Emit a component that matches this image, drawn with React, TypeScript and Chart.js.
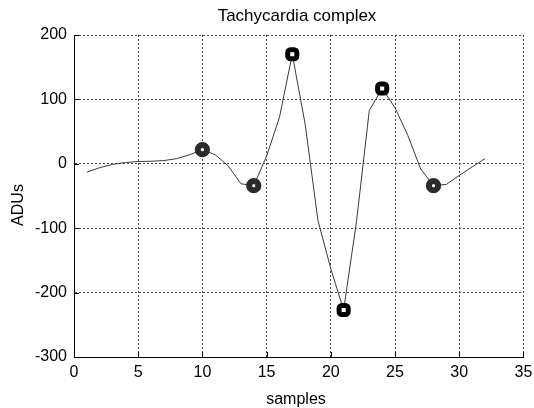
import React, { useEffect, useRef } from "react";
import { Chart, registerables } from "chart.js";

Chart.register(...registerables);

const TITLE = "Tachycardia complex";
const X_LABEL = "samples";
const Y_LABEL = "ADUs";

const samples = [
  1, 2, 3, 4, 5, 6, 7, 8, 9, 10, 11, 12, 13, 14, 15, 16,
  17, 18, 19, 20, 21, 22, 23, 24, 25, 26, 27, 28, 29, 30, 31, 32,
];
const adus = [
  -13, -6, -1, 2, 3.5, 4, 5, 8, 14, 22, 14, -3, -31, -34, 12, 72,
  170, 62, -88, -163, -227, -90, 83, 117, 87, 44, -8, -34, -32, -18, -5, 8,
];
const circleSamples = [10, 14, 28];
const squareSamples = [17, 21, 24];

const xTicks = [0, 5, 10, 15, 20, 25, 30, 35];
const yTicks = [-300, -200, -100, 0, 100, 200];

const FONT = "'Liberation Sans', Arial, Helvetica, sans-serif";

const pointsFor = (list: number[]) =>
  list.map((s) => ({ x: s, y: adus[samples.indexOf(s)] }));

const decorPlugin = {
  id: "decor",
  afterDraw(chart: any) {
    const { ctx, chartArea } = chart;
    const xs = chart.scales.x;
    const ys = chart.scales.y;
    ctx.save();
    ctx.strokeStyle = "#000";
    ctx.lineWidth = 1;
    ctx.setLineDash([]);
    ctx.beginPath();
    yTicks.forEach((v) => {
      const y = Math.round(ys.getPixelForValue(v)) + 0.5;
      ctx.moveTo(chartArea.left, y);
      ctx.lineTo(chartArea.left + 5, y);
    });
    xTicks.forEach((v) => {
      const x = Math.round(xs.getPixelForValue(v)) + 0.5;
      ctx.moveTo(x, chartArea.bottom);
      ctx.lineTo(x, chartArea.bottom - 5);
    });
    ctx.stroke();

    ctx.fillStyle = "#000";
    ctx.font = `17px ${FONT}`;
    ctx.textAlign = "center";
    ctx.textBaseline = "alphabetic";
    ctx.fillText(TITLE, 297, 21);
    ctx.font = `16px ${FONT}`;
    ctx.fillText(X_LABEL, 296, 404);
    ctx.translate(23, 205);
    ctx.rotate(-Math.PI / 2);
    ctx.fillText(Y_LABEL, 0, 0);
    ctx.restore();
  },
};

export default function App() {
  const canvasRef = useRef<HTMLCanvasElement | null>(null);

  useEffect(() => {
    if (!canvasRef.current) return;
    Chart.defaults.font.family = FONT;
    const chart = new Chart(canvasRef.current, {
      type: "scatter",
      data: {
        datasets: [
          {
            label: "squares",
            data: pointsFor(squareSamples),
            showLine: false,
            pointStyle: "rectRounded",
            pointRadius: 5.3,
            pointBorderWidth: 5,
            pointBorderColor: "#000",
            pointBackgroundColor: "#fff",
          },
          {
            label: "circles",
            data: pointsFor(circleSamples),
            showLine: false,
            pointStyle: "circle",
            pointRadius: 4.6,
            pointBorderWidth: 6,
            pointBorderColor: "#2b2b2b",
            pointBackgroundColor: "#fff",
          },
          {
            label: "signal",
            data: samples.map((s, i) => ({ x: s, y: adus[i] })),
            showLine: true,
            borderColor: "#3a3a3a",
            borderWidth: 1,
            pointRadius: 0,
            tension: 0,
          },
        ],
      },
      options: {
        responsive: false,
        animation: false,
        devicePixelRatio: 1,
        layout: { padding: { top: 35, right: 0, left: 0, bottom: 0 } },
        plugins: {
          legend: { display: false },
          tooltip: { enabled: false },
          title: { display: false },
        },
        scales: {
          x: {
            type: "linear",
            min: 0,
            max: 35,
            afterFit: (s: any) => {
              s.height = 51;
              s.paddingRight = 10;
              s.paddingLeft = 0;
            },
            afterBuildTicks: (s: any) => {
              s.ticks = xTicks.map((v) => ({ value: v }));
            },
            ticks: {
              color: "#000",
              font: { size: 16 },
              padding: 6,
              maxRotation: 0,
            },
            grid: {
              color: "#444",
              lineWidth: 1,
              drawTicks: false,
            },
            border: { display: true, color: "#000", width: 1, dash: [2, 2] },
          },
          y: {
            type: "linear",
            min: -300,
            max: 200,
            afterFit: (s: any) => {
              s.width = 74;
              s.paddingTop = 0;
              s.paddingBottom = 0;
            },
            afterBuildTicks: (s: any) => {
              s.ticks = yTicks.map((v) => ({ value: v }));
            },
            ticks: {
              color: "#000",
              font: { size: 16 },
              padding: 7,
            },
            grid: {
              color: "#444",
              lineWidth: 1,
              drawTicks: false,
            },
            border: { display: true, color: "#000", width: 1, dash: [2, 2] },
          },
        },
      },
      plugins: [decorPlugin],
    });
    return () => chart.destroy();
  }, []);

  return (
    <div style={{ position: "absolute", left: 0, top: 0, width: 534, height: 408, background: "#fff" }}>
      <canvas ref={canvasRef} width={534} height={408} style={{ display: "block" }} />
    </div>
  );
}
